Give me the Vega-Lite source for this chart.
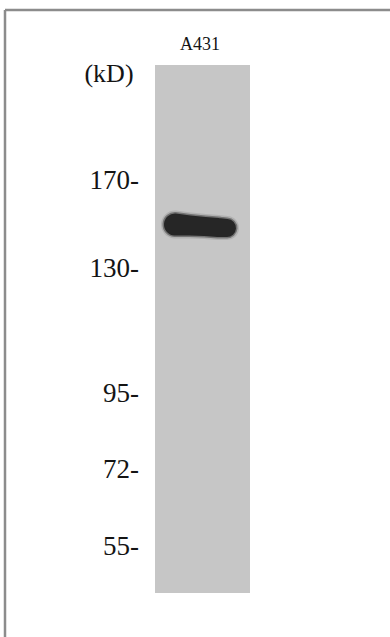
{
  "$schema": "https://vega.github.io/schema/vega-lite/v6.json",
  "width": 390,
  "height": 637,
  "autosize": {"type": "none"},
  "padding": 0,
  "background": "white",
  "config": {"view": {"stroke": null}},
  "datasets": {
    "frame": [
      {"x": 5, "y": 10, "x2": 390, "y2": 10},
      {"x": 5, "y": 10, "x2": 5, "y2": 637}
    ],
    "lane": [{"lane": "A431", "x": 155, "x2": 250, "y": 65, "y2": 593}],
    "band": [
      {"x": 175, "y": 224.5, "w": 23},
      {"x": 190, "y": 225.5, "w": 21},
      {"x": 205, "y": 226.5, "w": 20},
      {"x": 218, "y": 227.5, "w": 20},
      {"x": 227, "y": 228, "w": 19}
    ],
    "markers": [
      {"label": "170-", "x": 139, "y": 181},
      {"label": "130-", "x": 139, "y": 269},
      {"label": "95-", "x": 139, "y": 394},
      {"label": "72-", "x": 139, "y": 470},
      {"label": "55-", "x": 139, "y": 547}
    ],
    "titles": [
      {"label": "A431", "x": 200, "y": 45, "kind": "lane"},
      {"label": "(kD)", "x": 109, "y": 74, "kind": "unit"}
    ]
  },
  "layer": [
    {
      "data": {"name": "frame"},
      "mark": {"type": "rule", "stroke": "#8c8c8c", "strokeWidth": 2.5},
      "encoding": {
        "x": {"field": "x", "type": "quantitative", "scale": {"domain": [0, 390], "nice": false, "zero": false}, "axis": null},
        "x2": {"field": "x2"},
        "y": {"field": "y", "type": "quantitative", "scale": {"domain": [0, 637], "nice": false, "zero": false, "reverse": true}, "axis": null},
        "y2": {"field": "y2"}
      }
    },
    {
      "data": {"name": "lane"},
      "mark": {"type": "rect", "fill": "#c6c6c6"},
      "encoding": {
        "x": {"field": "x", "type": "quantitative", "axis": null},
        "x2": {"field": "x2"},
        "y": {"field": "y", "type": "quantitative", "axis": null},
        "y2": {"field": "y2"}
      }
    },
    {
      "data": {"name": "band"},
      "mark": {"type": "trail", "color": "#8a8a8a", "opacity": 0.35},
      "encoding": {
        "x": {"field": "x", "type": "quantitative", "axis": null},
        "y": {"field": "y", "type": "quantitative", "axis": null},
        "size": {"field": "w", "type": "quantitative", "scale": {"domain": [0, 30], "range": [5, 35]}, "legend": null}
      }
    },
    {
      "data": {"name": "band"},
      "mark": {"type": "trail", "color": "#4a4a4a", "opacity": 0.6},
      "encoding": {
        "x": {"field": "x", "type": "quantitative", "axis": null},
        "y": {"field": "y", "type": "quantitative", "axis": null},
        "size": {"field": "w", "type": "quantitative", "scale": {"domain": [0, 30], "range": [2, 32]}, "legend": null}
      }
    },
    {
      "data": {"name": "band"},
      "mark": {"type": "trail", "color": "#262626"},
      "encoding": {
        "x": {"field": "x", "type": "quantitative", "axis": null},
        "y": {"field": "y", "type": "quantitative", "axis": null},
        "size": {"field": "w", "type": "quantitative", "scale": {"domain": [0, 30], "range": [-1, 29]}, "legend": null}
      }
    },
    {
      "data": {"name": "markers"},
      "mark": {"type": "text", "font": "Liberation Serif", "fontSize": 27, "align": "right", "baseline": "middle", "color": "#141414"},
      "encoding": {
        "x": {"field": "x", "type": "quantitative", "axis": null},
        "y": {"field": "y", "type": "quantitative", "axis": null},
        "text": {"field": "label"}
      }
    },
    {
      "data": {"name": "titles"},
      "mark": {"type": "text", "font": "Liberation Serif", "align": "center", "baseline": "middle", "color": "#141414"},
      "encoding": {
        "x": {"field": "x", "type": "quantitative", "axis": null},
        "y": {"field": "y", "type": "quantitative", "axis": null},
        "text": {"field": "label"},
        "size": {"field": "kind", "type": "nominal", "scale": {"domain": ["lane", "unit"], "range": [18, 26]}, "legend": null}
      }
    }
  ]
}
